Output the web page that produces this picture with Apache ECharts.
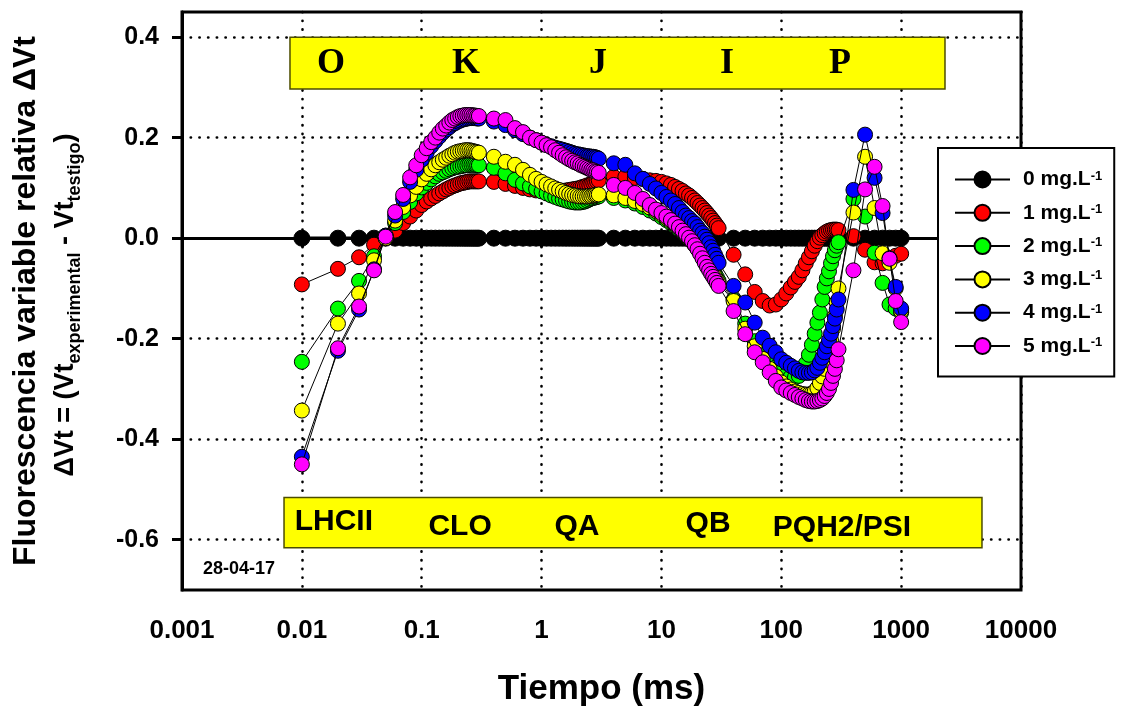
<!DOCTYPE html>
<html><head><meta charset="utf-8">
<script src="https://cdn.jsdelivr.net/npm/echarts@6/dist/echarts.min.js"></script>
<style>html,body{margin:0;padding:0;background:#fff}#c{width:1124px;height:707px}</style>
</head><body><div id="c"></div>
<script>
// ---- time axis (ms) ----
const times = [
 0.01,0.02,0.03,0.04,0.05,0.06,0.07,0.08,0.09,0.10,
 0.11,0.12,0.13,0.14,0.15,0.16,0.17,0.18,0.19,0.20,
 0.21,0.22,0.23,0.24,0.25,0.26,0.27,0.28,0.29,0.30,
 0.4,0.5,0.6,0.7,0.8,0.9,1.0,1.1,1.2,1.3,
 1.4,1.5,1.6,1.7,1.8,1.9,2.0,2.1,2.2,2.3,
 2.4,2.5,2.6,2.7,2.8,2.9,3.0,
 4,5,6,7,8,9,10,11,12,13,
 14,15,16,17,18,19,20,21,22,23,
 24,25,26,27,28,29,30,
 40,50,60,70,80,90,100,110,120,130,
 140,150,160,170,180,190,200,210,220,230,
 240,250,260,270,280,290,300,
 400,500,600,700,800,900,1000
];
// ---- series values (ΔVt) ----
const s0 = [
 0,0,0,0,0,0,0,0,0,0,
 0,0,0,0,0,0,0,0,0,0,
 0,0,0,0,0,0,0,0,0,0,
 0,0,0,0,0,0,0,0,0,0,
 0,0,0,0,0,0,0,0,0,0,
 0,0,0,0,0,0,0,
 0,0,0,0,0,0,0,0,0,0,
 0,0,0,0,0,0,0,0,0,0,
 0,0,0,0,0,0,0,
 0,0,0,0,0,0,0,0,0,0,
 0,0,0,0,0,0,0,0,0,0,
 0,0,0,0,0,0,0,
 0,0,0,0,0,0,0
];
const s1 = [
 -0.092,-0.061,-0.038,-0.013,0.000,0.015,0.030,0.043,0.055,0.066,
 0.073,0.079,0.084,0.089,0.093,0.097,0.100,0.103,0.105,0.107,
 0.109,0.110,0.111,0.112,0.113,0.113,0.113,0.113,0.113,0.113,
 0.112,0.108,0.104,0.100,0.097,0.095,0.094,0.093,0.093,0.093,
 0.093,0.094,0.095,0.096,0.097,0.098,0.099,0.100,0.102,0.103,
 0.105,0.106,0.108,0.110,0.111,0.113,0.115,
 0.122,0.122,0.120,0.118,0.115,0.114,0.112,0.109,0.106,0.102,
 0.098,0.094,0.089,0.085,0.080,0.075,0.070,0.065,0.060,0.055,
 0.050,0.045,0.040,0.035,0.030,0.025,0.020,
 -0.033,-0.072,-0.107,-0.125,-0.134,-0.132,-0.122,-0.110,-0.098,-0.087,
 -0.077,-0.064,-0.050,-0.038,-0.026,-0.015,-0.006,0.001,0.006,0.010,
 0.013,0.015,0.016,0.017,0.017,0.017,0.016,
 0.004,-0.023,-0.048,-0.050,-0.045,-0.035,-0.031
];
const s2 = [
 -0.246,-0.140,-0.085,-0.036,0.005,0.030,0.052,0.072,0.089,0.101,
 0.110,0.117,0.123,0.128,0.131,0.134,0.137,0.139,0.141,0.142,
 0.143,0.144,0.145,0.145,0.146,0.146,0.146,0.146,0.145,0.145,
 0.140,0.129,0.116,0.109,0.103,0.098,0.093,0.089,0.085,0.082,
 0.079,0.077,0.075,0.073,0.072,0.071,0.071,0.071,0.072,0.073,
 0.075,0.077,0.079,0.080,0.081,0.082,0.083,
 0.080,0.075,0.069,0.062,0.055,0.049,0.042,0.036,0.030,0.024,
 0.018,0.012,0.006,0.000,-0.006,-0.012,-0.018,-0.024,-0.031,-0.038,
 -0.044,-0.051,-0.058,-0.064,-0.071,-0.078,-0.085,
 -0.122,-0.170,-0.205,-0.228,-0.245,-0.257,-0.266,-0.272,-0.276,-0.277,
 -0.274,-0.266,-0.250,-0.232,-0.212,-0.190,-0.168,-0.148,-0.122,-0.097,
 -0.080,-0.066,-0.050,-0.036,-0.024,-0.015,-0.008,
 0.078,0.043,-0.029,-0.089,-0.132,-0.140,-0.148
];
const s3 = [
 -0.343,-0.170,-0.110,-0.044,0.000,0.035,0.062,0.085,0.102,0.117,
 0.128,0.137,0.145,0.151,0.156,0.160,0.164,0.167,0.170,0.172,
 0.173,0.174,0.175,0.175,0.175,0.174,0.173,0.172,0.171,0.170,
 0.162,0.152,0.146,0.136,0.126,0.118,0.112,0.107,0.103,0.099,
 0.096,0.093,0.090,0.088,0.086,0.085,0.084,0.083,0.083,0.083,
 0.083,0.084,0.084,0.085,0.086,0.086,0.087,
 0.085,0.080,0.074,0.068,0.061,0.054,0.047,0.040,0.034,0.027,
 0.021,0.014,0.007,0.000,-0.007,-0.014,-0.021,-0.028,-0.035,-0.042,
 -0.049,-0.056,-0.063,-0.070,-0.077,-0.084,-0.090,
 -0.125,-0.180,-0.215,-0.240,-0.260,-0.275,-0.287,-0.295,-0.301,-0.305,
 -0.308,-0.310,-0.311,-0.311,-0.309,-0.305,-0.298,-0.288,-0.275,-0.260,
 -0.243,-0.224,-0.203,-0.180,-0.155,-0.128,-0.100,
 0.051,0.162,0.060,-0.030,-0.049,-0.100,-0.145
];
const s4 = [
 -0.435,-0.224,-0.142,-0.062,0.005,0.045,0.078,0.112,0.136,0.156,
 0.170,0.183,0.193,0.202,0.210,0.216,0.221,0.226,0.229,0.232,
 0.234,0.236,0.237,0.238,0.239,0.239,0.239,0.239,0.238,0.238,
 0.232,0.225,0.215,0.207,0.200,0.195,0.190,0.186,0.183,0.180,
 0.178,0.176,0.174,0.172,0.170,0.168,0.167,0.166,0.165,0.164,
 0.163,0.163,0.162,0.162,0.161,0.160,0.158,
 0.149,0.146,0.129,0.118,0.108,0.099,0.090,0.082,0.075,0.068,
 0.060,0.052,0.045,0.040,0.034,0.029,0.022,0.015,0.010,0.003,
 -0.003,-0.010,-0.018,-0.025,-0.033,-0.041,-0.049,
 -0.095,-0.128,-0.168,-0.198,-0.214,-0.227,-0.241,-0.248,-0.254,-0.259,
 -0.264,-0.267,-0.268,-0.268,-0.267,-0.263,-0.258,-0.248,-0.238,-0.227,
 -0.215,-0.203,-0.190,-0.175,-0.160,-0.142,-0.122,
 0.096,0.206,0.120,0.050,-0.040,-0.097,-0.140
];
const s5 = [
 -0.450,-0.219,-0.136,-0.064,0.003,0.052,0.086,0.121,0.145,0.165,
 0.179,0.191,0.200,0.210,0.218,0.224,0.230,0.235,0.238,0.241,
 0.243,0.244,0.245,0.245,0.245,0.245,0.244,0.244,0.243,0.243,
 0.238,0.235,0.219,0.211,0.200,0.195,0.190,0.185,0.181,0.175,
 0.170,0.165,0.161,0.157,0.154,0.151,0.149,0.146,0.144,0.142,
 0.140,0.138,0.136,0.135,0.133,0.132,0.130,
 0.106,0.100,0.090,0.078,0.066,0.057,0.050,0.043,0.036,0.029,
 0.022,0.015,0.008,0.001,-0.006,-0.014,-0.022,-0.031,-0.040,-0.049,
 -0.057,-0.064,-0.071,-0.077,-0.083,-0.089,-0.095,
 -0.145,-0.191,-0.227,-0.247,-0.267,-0.284,-0.297,-0.303,-0.308,-0.312,
 -0.316,-0.319,-0.322,-0.324,-0.325,-0.325,-0.324,-0.322,-0.319,-0.314,
 -0.308,-0.300,-0.288,-0.274,-0.260,-0.243,-0.221,
 -0.064,0.097,0.142,0.064,-0.041,-0.125,-0.167
];
const seriesNames = ['0 mg.L','1 mg.L','2 mg.L','3 mg.L','4 mg.L','5 mg.L'];
const yTicks = [-0.6,-0.4,-0.2,0,0.2,0.4];
const xTickLabels = ['0.001','0.01','0.1','1','10','100','1000','10000'];
// annotation texts
const phaseLabels = ['O','K','J','I','P'];
const phaseTimes = [0.0175,0.234,2.96,35.2,309];
const siteLabels = ['LHCII','CLO','QA','QB','PQH2/PSI'];
const siteTimes = [0.0185,0.209,1.975,24.5,321];
const siteYs = [-0.565,-0.575,-0.575,-0.569,-0.577];
const dateLabel = '28-04-17';

const SANS = "'Liberation Sans', Arial, sans-serif";
const SERIF = "'Liberation Serif', 'Times New Roman', serif";
const colors = ['#000000','#ff0000','#00ff00','#ffff00','#0000ff','#ff00ff'];
const allValues = [s0,s1,s2,s3,s4,s5];

const series = allValues.map((vals,i)=>({
  name: seriesNames[i], type:'line',
  data: times.map((t,j)=>[t, vals[j]]),
  symbol:'circle', symbolSize: i===0?16:15, showAllSymbol:true,
  lineStyle:{color:'#000', width: i===0?3.5:1},
  itemStyle:{color: colors[i], borderColor:'#000', borderWidth:1},
  z: 3+i, animation:false, emphasis:{disabled:true}, silent:true
}));
series.push({
  name:'notes', type:'line', data:[], z:2, silent:true, animation:false,
  markArea:{silent:true, animation:false,
    itemStyle:{color:'#ffff00', borderColor:'#4d4d00', borderWidth:1.5},
    data:[
      [{coord:[0.00796,0.4]},{coord:[2322,0.297]}],
      [{coord:[0.0071,-0.516]},{coord:[4725,-0.616]}]
    ]},
  markPoint:{silent:true, animation:false, symbol:'circle', symbolSize:1,
    itemStyle:{color:'rgba(0,0,0,0)'},
    data: [
      ...phaseLabels.map((s,i)=>({name:s, coord:[phaseTimes[i],0.3465],
        label:{show:true, position:'inside', formatter:'{b}', color:'#000', fontFamily:SERIF, fontWeight:'bold', fontSize:36}})),
      ...siteLabels.map((s,i)=>({name:s, coord:[siteTimes[i],siteYs[i]],
        label:{show:true, position:'inside', formatter:'{b}', color:'#000', fontFamily:SANS, fontWeight:'bold', fontSize:30}})),
      {name:dateLabel, coord:[0.00299,-0.658],
        label:{show:true, position:'inside', formatter:'{b}', color:'#000', fontFamily:SANS, fontWeight:'bold', fontSize:18}}
    ]}
});

const chart = echarts.init(document.getElementById('c'), null, {renderer:'canvas'});
const dotted = {color:'#000', width:2.6, type:[0.3,8.4], cap:'round'};
chart.setOption({
  animation:false,
  backgroundColor:'#fff',
  textStyle:{fontFamily:SANS},
  grid:{left:182, right:103, top:12, bottom:117, show:true, borderColor:'#000', borderWidth:3, backgroundColor:'transparent', containLabel:false, outerBoundsMode:'none'},
  xAxis:{type:'log', logBase:10, min:0.001, max:10000,
    name:'Tiempo (ms)', nameLocation:'middle', nameGap:82,
    nameTextStyle:{fontFamily:SANS, fontWeight:'bold', fontSize:35, color:'#000'},
    axisLine:{show:true, lineStyle:{color:'#000', width:3}},
    axisTick:{show:true, inside:false, length:9, lineStyle:{color:'#000', width:3}},
    minorTick:{show:false},
    axisLabel:{show:true, margin:28, fontFamily:SANS, fontWeight:'bold', fontSize:26, color:'#000', showMinLabel:true, showMaxLabel:true,
      formatter:v=>xTickLabels[Math.round(Math.log10(v))+3]},
    splitLine:{show:true, lineStyle:dotted}
  },
  yAxis:{type:'value', min:-0.7, max:0.45,
    axisLine:{show:true, lineStyle:{color:'#000', width:3}},
    axisTick:{show:true, inside:false, length:10, lineStyle:{color:'#000', width:3}, customValues:yTicks},
    axisLabel:{show:true, margin:23, fontFamily:SANS, fontWeight:'bold', fontSize:25, color:'#000', customValues:yTicks,
      formatter:v=>v.toFixed(1)},
    splitLine:{show:true, lineStyle:dotted}
  },
  legend:{data:seriesNames, orient:'vertical', left:938, top:148, padding:[21,12,20,16],
    itemGap:12.3, itemWidth:55, itemHeight:20, backgroundColor:'#fff', borderColor:'#000', borderWidth:2, borderRadius:0,
    selectedMode:false,
    formatter:n=>'{t|'+n+'}{s|-1}',
    textStyle:{padding:[0,0,0,8], rich:{
      t:{fontFamily:SANS, fontWeight:'bold', fontSize:21, color:'#000', lineHeight:20},
      s:{fontFamily:SANS, fontWeight:'bold', fontSize:13, color:'#000', lineHeight:8, verticalAlign:'top'}}}
  },
  graphic:[
    {type:'text', x:26, y:301, rotation:Math.PI/2, silent:true,
      style:{text:'Fluorescencia variable relativa ΔVt', font:"bold 32px 'Liberation Sans', Arial, sans-serif", fill:'#000', align:'center', verticalAlign:'middle'}},
    {type:'text', x:66, y:305, rotation:Math.PI/2, silent:true,
      style:{text:'{m|ΔVt = (Vt}{s|experimental}{m| - Vt}{s|testigo}{m|)}', align:'center', verticalAlign:'middle', fill:'#000',
        rich:{
          m:{fontFamily:SANS, fontWeight:'bold', fontSize:27, lineHeight:36, fill:'#000'},
          s:{fontFamily:SANS, fontWeight:'bold', fontSize:18, lineHeight:18, verticalAlign:'bottom', fill:'#000'}
        }}}
  ],
  series: series
});
</script></body></html>
